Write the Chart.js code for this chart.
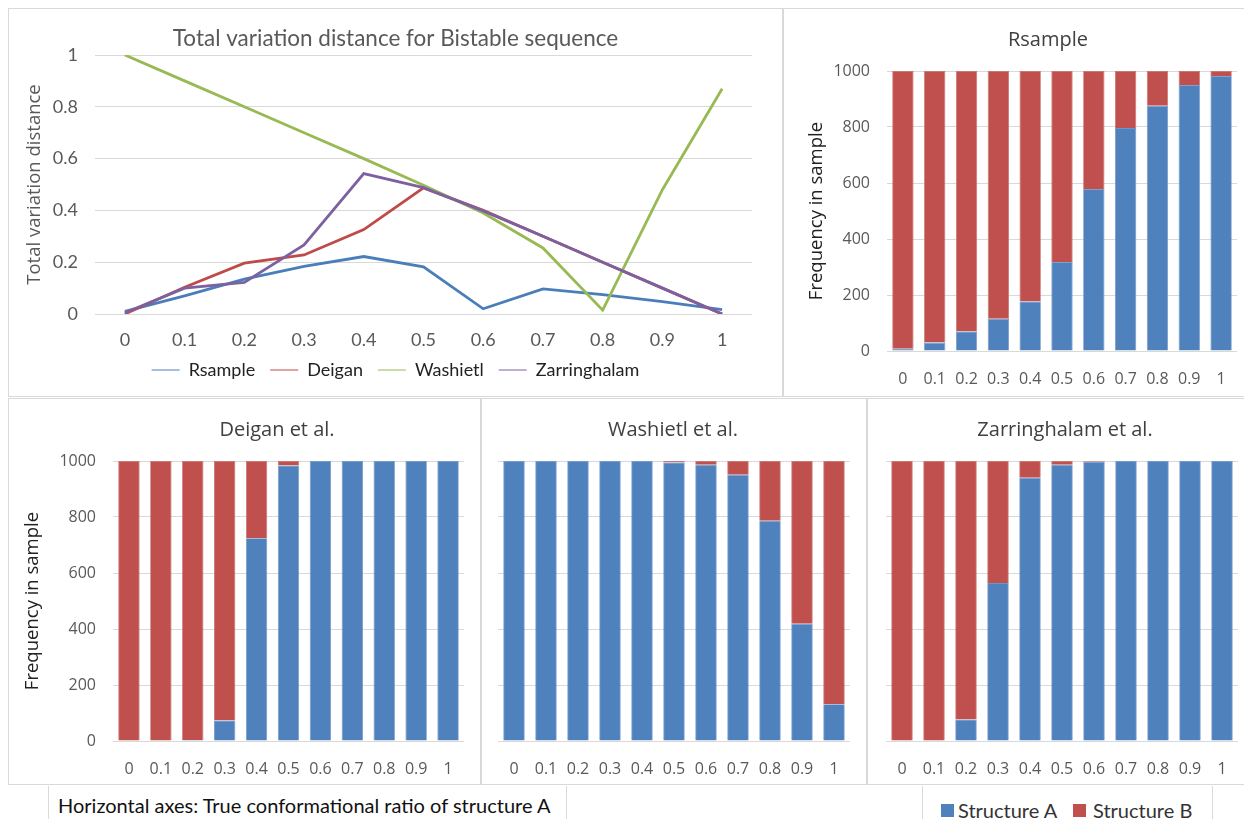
<!DOCTYPE html>
<html>
<head>
<meta charset="utf-8">
<script src="https://cdn.jsdelivr.net/npm/chart.js@4.4.1/dist/chart.umd.min.js"></script>
<style>
  body { margin: 0; width: 1244px; height: 819px; overflow: hidden; background: #fff; position: relative; }
  .panel { position: absolute; border: 1px solid #d9d9d9; overflow: hidden; background: #fff; }
  .panel canvas { position: absolute; left: 0; top: 0; }
  .note { position: absolute; left: 48px; top: 786px; width: 517px; height: 40px; border-left: 1px solid #d9d9d9; border-right: 1px solid #d9d9d9;
          font: 20px Lato, sans-serif; color: #111; }
  .note span { position: absolute; left: 9px; top: 7px; white-space: nowrap; }
  .key { position: absolute; left: 922px; top: 786px; width: 289px; height: 40px; border-left: 1px solid #d9d9d9; border-right: 1px solid #d9d9d9;
         font: 20px Lato, sans-serif; color: #333; }
  .key i { position: absolute; top: 18px; width: 13px; height: 13px; }
  .key span { position: absolute; top: 12px; white-space: nowrap; }
</style>
</head>
<body>

<div class="panel" style="left:8px;top:8px;width:773px;height:387px"><canvas id="tvd"></canvas></div>
<div class="panel" style="left:783px;top:8px;width:470px;height:387px"><canvas id="rsample"></canvas></div>
<div class="panel" style="left:8px;top:398px;width:471px;height:385px"><canvas id="deigan"></canvas></div>
<div class="panel" style="left:481px;top:398px;width:384px;height:385px"><canvas id="washietl"></canvas></div>
<div class="panel" style="left:867px;top:398px;width:390px;height:385px"><canvas id="zarringhalam"></canvas></div>

<div class="note"><span>Horizontal axes: True conformational ratio of structure A</span></div>
<div class="key">
  <i style="left:18px;background:#4F81BD"></i><span style="left:35px">Structure A</span>
  <i style="left:150px;background:#C0504D"></i><span style="left:170px">Structure B</span>
</div>

<script>
// true ratio of structure A (x axis of every panel)
const ratios = ["0", "0.1", "0.2", "0.3", "0.4", "0.5", "0.6", "0.7", "0.8", "0.9", "1"];

// total variation distance
const tvdRsample = [0.01, 0.07, 0.135, 0.184, 0.222, 0.182, 0.02, 0.097, 0.075, 0.048, 0.017];
const tvdDeigan = [0.0, 0.103, 0.196, 0.228, 0.326, 0.487, 0.4, 0.3, 0.2, 0.1, 0.0];
const tvdWashietl = [1.0, 0.9, 0.8, 0.7, 0.6, 0.497, 0.39, 0.255, 0.015, 0.48, 0.87];
const tvdZarringhalam = [0.005, 0.1, 0.122, 0.267, 0.542, 0.488, 0.398, 0.3, 0.2, 0.1, 0.0];

// frequency in sample (1000 draws), structure A / structure B
const rsampleA = [8, 30, 70, 115, 177, 318, 579, 796, 876, 950, 982];
const rsampleB = [992, 970, 930, 885, 823, 682, 421, 204, 124, 50, 18];
const deiganA = [0, 0, 4, 73, 724, 984, 1000, 1000, 1000, 1000, 1000];
const deiganB = [1000, 1000, 996, 927, 276, 16, 0, 0, 0, 0, 0];
const washietlA = [1000, 1000, 1000, 1000, 1000, 995, 987, 951, 787, 419, 131];
const washietlB = [0, 0, 0, 0, 0, 5, 13, 49, 213, 581, 869];
const zarrA = [0, 0, 77, 564, 940, 987, 997, 1000, 1000, 1000, 1000];
const zarrB = [1000, 1000, 923, 436, 60, 13, 3, 0, 0, 0, 0];

const tvdTicks = [0, 0.2, 0.4, 0.6, 0.8, 1];
const freqTicks = [0, 200, 400, 600, 800, 1000];

const grey = "#595959";
const gridCol = "#d9d9d9";

function sizeCanvas(id, w, h) {
  const c = document.getElementById(id);
  c.width = w; c.height = h;
  c.style.width = w + "px"; c.style.height = h + "px";
  return c;
}

// empty axis on the right, only there to keep space so the titles stay centred on the panel
function spacer(width) {
  return {
    position: "right",
    grid: { display: false },
    border: { display: false },
    ticks: { display: false },
    afterFit: s => { s.width = width; }
  };
}

// line chart, top left
new Chart(sizeCanvas("tvd", 773, 387), {
  type: "line",
  data: {
    labels: ratios,
    datasets: [
      { label: "Rsample", data: tvdRsample, borderColor: "#4A7EBB", order: 4 },
      { label: "Deigan", data: tvdDeigan, borderColor: "#BE4B48", order: 3 },
      { label: "Washietl", data: tvdWashietl, borderColor: "#98B954", order: 2 },
      { label: "Zarringhalam", data: tvdZarringhalam, borderColor: "#7D60A0", order: 1 }
    ]
  },
  options: {
    responsive: false,
    animation: false,
    layout: { padding: { left: 0, right: 0, top: 0, bottom: 7 } },
    elements: {
      line: { borderWidth: 2.8, tension: 0, fill: false },
      point: { radius: 0 }
    },
    plugins: {
      title: {
        display: true,
        text: "Total variation distance for Bistable sequence",
        color: grey,
        font: { family: "Lato", size: 22.5, weight: "normal" },
        padding: { top: 16.5, bottom: 2.5 }
      },
      legend: {
        position: "bottom",
        labels: {
          usePointStyle: true,
          pointStyle: "line",
          pointStyleWidth: 28,
          color: "#222",
          font: { family: "Lato", size: 18 },
          padding: 15,
          sort: (a, b) => a.datasetIndex - b.datasetIndex
        }
      },
      tooltip: { enabled: false }
    },
    scales: {
      x: {
        offset: true,
        grid: { display: false },
        border: { display: false },
        ticks: { color: grey, font: { family: "Lato", size: 18 }, padding: 7, maxRotation: 0 },
        afterFit: s => { s.height = 32; }
      },
      y: {
        min: 0, max: 1,
        afterBuildTicks: s => { s.ticks = tvdTicks.map(v => ({ value: v })); },
        grid: { color: gridCol, drawTicks: false },
        border: { display: false },
        ticks: { color: grey, font: { family: "Lato", size: 18 }, padding: 17, callback: v => String(+v.toFixed(2)) },
        title: { display: true, text: "Total variation distance", color: grey, font: { family: "Open Sans", size: 18.5 }, padding: { top: 15 } },
        afterFit: s => { s.width = 86; }
      },
      gap: spacer(30)
    }
  }
});

// stacked bar panels
function freqChart(id, w, h, title, a, b, showY, yWidth, rightWidth, yTitlePad) {
  new Chart(sizeCanvas(id, w, h), {
    type: "bar",
    data: {
      labels: ratios,
      datasets: [
        { label: "Structure A", data: a, backgroundColor: "#4F81BD", borderColor: "#6C95C8", borderWidth: 0.8 },
        { label: "Structure B", data: b, backgroundColor: "#C0504D", borderColor: "#CA6B69", borderWidth: 0.8 }
      ]
    },
    options: {
      responsive: false,
      animation: false,
      layout: { padding: 0 },
      datasets: { bar: { categoryPercentage: 1, barPercentage: 0.67 } },
      plugins: {
        title: {
          display: true,
          text: title,
          color: "#404040",
          font: { family: "Open Sans", size: 20, weight: "normal" },
          padding: { top: 19, bottom: 19 }
        },
        legend: { display: false },
        tooltip: { enabled: false }
      },
      scales: {
        x: {
          stacked: true,
          grid: { display: false },
          border: { display: false },
          ticks: { color: grey, font: { family: "Open Sans", size: 16 }, padding: 11, maxRotation: 0 },
          afterFit: s => { s.height = h - 342; }
        },
        y: {
          stacked: true,
          min: 0, max: 1000,
          afterBuildTicks: s => { s.ticks = freqTicks.map(v => ({ value: v })); },
          grid: { color: gridCol, drawTicks: false },
          border: { display: false },
          ticks: { display: showY, color: grey, font: { family: "Open Sans", size: 16 }, padding: 17, callback: v => String(v) },
          title: { display: showY, text: "Frequency in sample", color: "#222", font: { family: "Open Sans", size: 18.5 }, padding: { top: yTitlePad } },
          afterFit: s => { s.width = yWidth; }
        },
        gap: spacer(rightWidth)
      }
    }
  });
}

freqChart("rsample", 528, 387, "Rsample", rsampleA, rsampleB, true, 103, 75, 22);
freqChart("deigan", 536, 385, "Deigan et al.", deiganA, deiganB, true, 104, 81, 13);
freqChart("washietl", 382, 385, "Washietl et al.", washietlA, washietlB, false, 16, 14, 0);
freqChart("zarringhalam", 394, 385, "Zarringhalam et al.", zarrA, zarrB, false, 18, 24, 0);
</script>
</body>
</html>
